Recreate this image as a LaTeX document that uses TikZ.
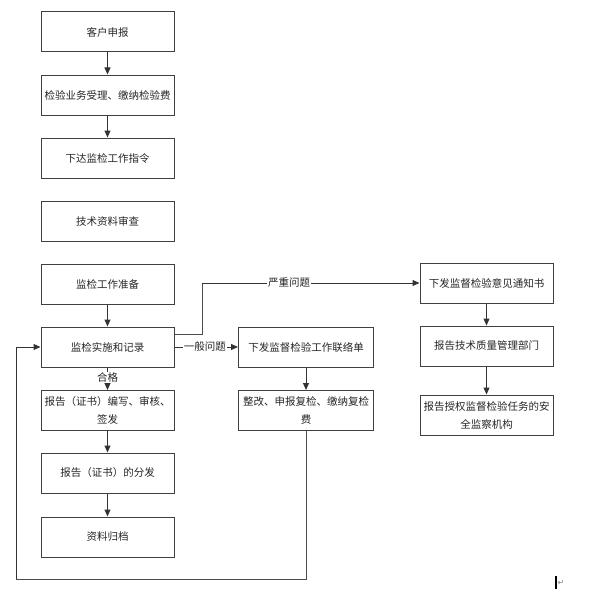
\documentclass[tikz,border=0pt]{standalone}
\usepackage{fontspec}
\setmainfont{Noto Sans CJK SC}
\newfontfamily\symfont{DejaVu Sans}
\usetikzlibrary{arrows.meta}
\begin{document}
\begin{tikzpicture}[x=1pt,y=-1pt,
  box/.style={draw=black!75,line width=1pt,minimum width=133pt,minimum height=40pt,inner sep=1pt,align=center,font=\fontsize{10.5pt}{18pt}\selectfont,text=black!85},
  wbox/.style={box,minimum width=135pt},
  arr/.style={draw=black!80,line width=1pt,-{Triangle[length=7pt,width=6pt]}},
  ln/.style={draw=black!70,line width=1pt},
  lab/.style={fill=white,inner sep=1pt,font=\fontsize{10.5pt}{12pt}\selectfont,text=black!85}]
\useasboundingbox (0,0) rectangle (592,594);
\node[box] (b1) at (107.5,32) {客户申报};
\node[box] (b2) at (107.5,95) {检验业务受理、缴纳检验费};
\node[box] (b3) at (107.5,158) {下达监检工作指令};
\node[box] (b4) at (107.5,221) {技术资料审查};
\node[box] (b5) at (107.5,284) {监检工作准备};
\node[box] (b6) at (107.5,347) {监检实施和记录};
\node[box] (b7) at (107.5,410.5) {报告（证书）编写、审核、\\签发};
\node[box] (b8) at (107.5,473) {报告（证书）的分发};
\node[box] (b9) at (107.5,537) {资料归档};
\node[wbox] (b10) at (306,347) {下发监督检验工作联络单};
\node[wbox] (b11) at (306,410.5) {整改、申报复检、缴纳复检\\费};
\node[box] (b12) at (486.5,283) {下发监督检验意见通知书};
\node[box] (b13) at (486.5,346) {报告技术质量管理部门};
\node[box] (b14) at (486.5,415) {报告授权监督检验任务的安\\全监察机构};
\draw[arr] (b1) -- (b2);
\draw[arr] (b2) -- (b3);
\draw[arr] (b5) -- (b6);
\draw[arr] (b6) -- node[lab,pos=0.45]{合格} (b7);
\draw[arr] (b7) -- (b8);
\draw[arr] (b8) -- (b9);
\draw[arr] (b10) -- (b11);
\draw[arr] (b12) -- (b13);
\draw[arr] (b13) -- (b14);
\draw[arr] (b6) -- node[lab,pos=0.48]{一般问题} (b10);
\coordinate (bend) at (202,283);
\draw[ln] ([yshift=13pt]b6.east) -| (bend);
\draw[arr] (bend) -- node[lab,pos=0.4]{严重问题} (b12.west);
\coordinate (lb) at (16,579);
\draw[ln] (b11.south) |- (lb);
\draw[arr] (lb) |- (b6.west);
\draw[line width=1.5pt] (556,576) -- (556,589);
\node[font=\symfont\fontsize{8pt}{8pt}\selectfont,text=black!50,inner sep=0pt] (ret) at (561,583) {↵};
\end{tikzpicture}
\end{document}
